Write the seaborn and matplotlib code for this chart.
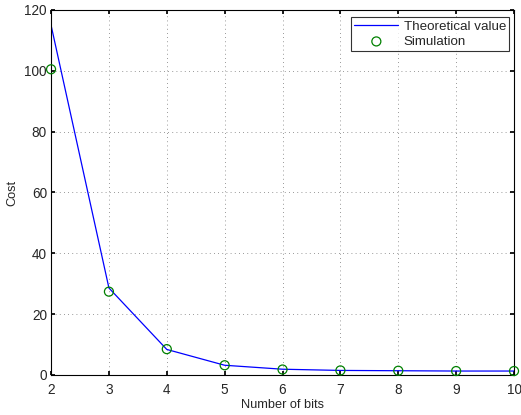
import matplotlib
matplotlib.use("Agg")
import matplotlib.pyplot as plt
import pandas as pd
import seaborn as sns

bits = [2, 3, 4, 5, 6, 7, 8, 9, 10]
theoretical = [115.0, 28.6, 8.4, 3.2, 1.9, 1.5, 1.4, 1.3, 1.3]
simulation = [100.5, 27.4, 8.5, 3.2, 1.8, 1.5, 1.4, 1.3, 1.3]

df = pd.DataFrame({"bits": bits, "theoretical": theoretical, "simulation": simulation})

sns.set_theme(style="white")
plt.rcParams["font.family"] = ["Liberation Sans", "DejaVu Sans"]

fig = plt.figure(figsize=(5.21, 4.15), dpi=100)
ax = fig.add_axes([0.098, 0.0964, 0.8886, 0.8796])

sns.lineplot(data=df, x="bits", y="theoretical", ax=ax, color="blue", linewidth=0.9,
             label="Theoretical value")
sns.scatterplot(data=df, x="bits", y="simulation", ax=ax, marker="o", s=42,
                facecolor="none", edgecolor="green", linewidth=0.9, label="Simulation",
                clip_on=False, zorder=5)

ax.set_xlim(2, 10)
ax.set_ylim(0, 120)
ax.set_xticks(range(2, 11))
ax.set_yticks(range(0, 121, 20))
ax.set_xlabel("Number of bits", fontsize=9.2, labelpad=1)
ax.set_ylabel("Cost", fontsize=9.2, labelpad=4)
ax.tick_params(direction="in", length=3, labelsize=9.8, top=True, right=True,
               bottom=True, left=True, color="black")
ax.tick_params(axis="x", pad=6)
ax.tick_params(axis="y", pad=3)
ax.grid(True, linestyle=(0, (1, 4)), color="#777777", linewidth=0.6)
for sp in ax.spines.values():
    sp.set_color("black")
    sp.set_linewidth(0.8)

leg = ax.legend(loc="upper right", fontsize=9.6, frameon=True, fancybox=False,
                edgecolor="black", bbox_to_anchor=(0.99, 0.98), borderaxespad=0.0,
                handlelength=3.3, handletextpad=0.4, borderpad=0.25, labelspacing=0.2)
leg.get_frame().set_linewidth(0.8)

fig.savefig("out.png", dpi=100)
